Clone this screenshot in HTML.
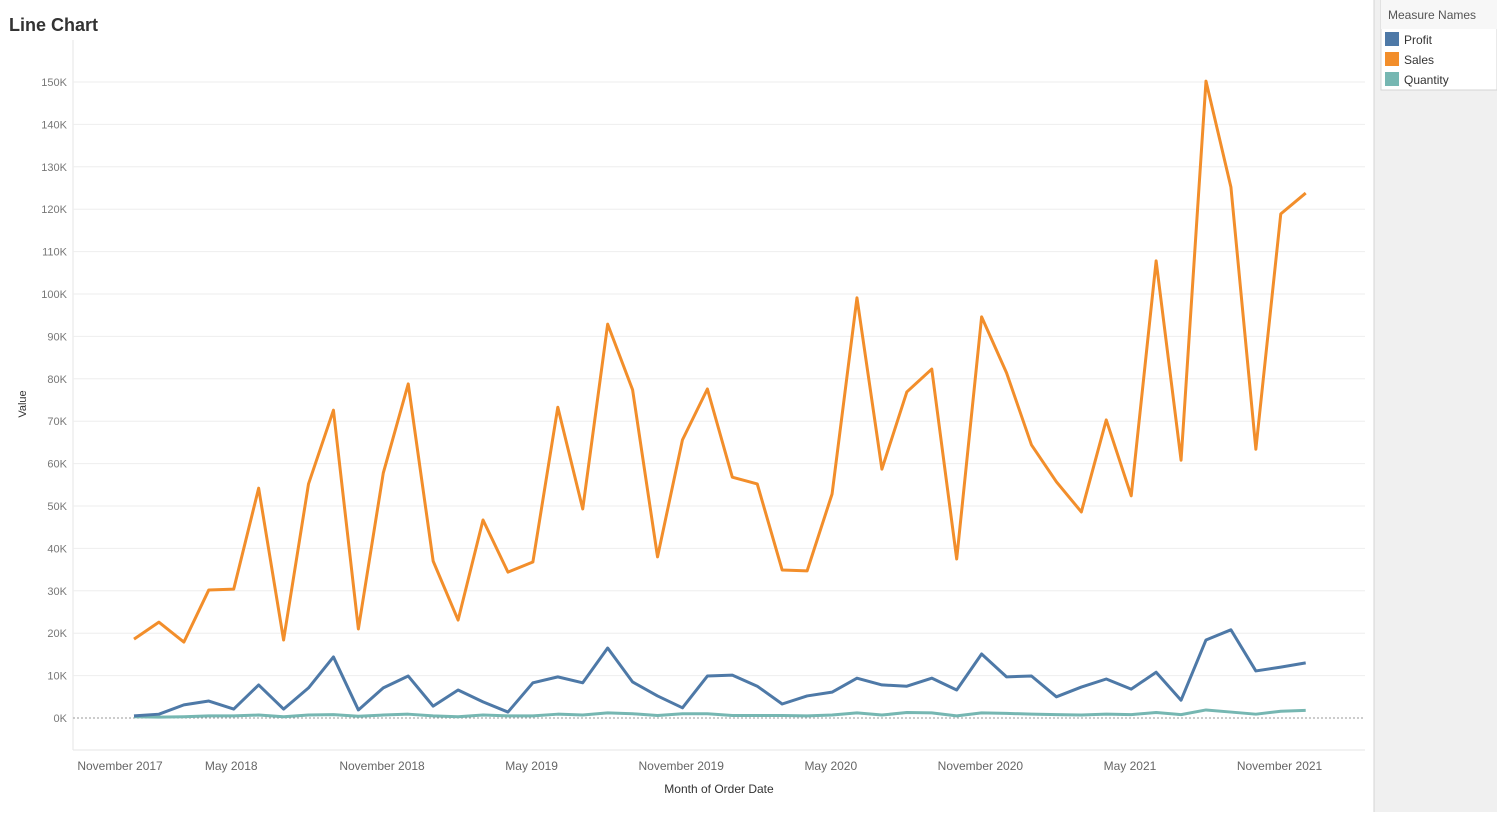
<!DOCTYPE html>
<html><head><meta charset="utf-8"><style>
body{margin:0;width:1497px;height:812px;overflow:hidden;background:#fff;font-family:"Liberation Sans",sans-serif;}
</style></head><body>
<svg id="c" width="1497" height="812" xmlns="http://www.w3.org/2000/svg">
<rect x="1374" y="0" width="123" height="812" fill="#f0f0f0"/>
<line x1="1374" y1="0" x2="1374" y2="812" stroke="#d4d4d4"/>
<g>
<rect x="1381" y="0" width="116" height="90" fill="#fff" stroke="#d4d4d4"/>
<rect x="1381" y="0" width="116" height="29" fill="#f7f7f7"/>
<text x="1388" y="19" font-size="12" fill="#555">Measure Names</text>
<g><rect x="1385" y="32" width="14" height="14" fill="#4e79a7"/><text x="1404" y="44" font-size="12" fill="#333">Profit</text></g>
<g><rect x="1385" y="52" width="14" height="14" fill="#f28e2b"/><text x="1404" y="64" font-size="12" fill="#333">Sales</text></g>
<g><rect x="1385" y="72" width="14" height="14" fill="#76b7b2"/><text x="1404" y="84" font-size="12" fill="#333">Quantity</text></g>
</g>
<text x="9" y="31" font-size="18" font-weight="bold" fill="#333">Line Chart</text>
<text transform="translate(26,404) rotate(-90)" text-anchor="middle" font-size="11" fill="#333">Value</text>
<text x="719" y="793" text-anchor="middle" font-size="12" fill="#333">Month of Order Date</text>
<line x1="73" y1="40" x2="73" y2="750" stroke="#e6e6e6"/>
<line x1="73" y1="750" x2="1365" y2="750" stroke="#e6e6e6"/>
<g id="grid"></g><g id="yt"></g><g id="xt"></g><g id="lines"></g>
</svg>
<script>
const sales=[18.6,22.6,17.9,30.2,30.4,54.2,18.4,55.2,72.6,21,57.8,78.8,37,23.1,46.7,34.4,36.8,73.3,49.3,92.9,77.4,38,65.6,77.6,56.8,55.2,34.9,34.7,52.8,99.1,58.7,76.9,82.3,37.5,94.6,81.4,64.4,55.7,48.6,70.3,52.4,107.8,60.8,150.2,125.2,63.4,118.9,123.8];
const profit=[0.5,0.9,3.1,4,2.1,7.8,2.1,7.1,14.4,1.9,7.1,9.9,2.8,6.6,3.8,1.4,8.3,9.7,8.3,16.5,8.5,5.2,2.4,9.9,10.1,7.5,3.3,5.2,6.1,9.4,7.8,7.5,9.4,6.6,15.1,9.7,9.9,5,7.3,9.2,6.8,10.8,4.2,18.4,20.8,11.1,12,13];
const quantity=[0.3,0.2,0.3,0.5,0.5,0.7,0.3,0.7,0.8,0.4,0.7,0.9,0.5,0.3,0.7,0.5,0.5,0.9,0.7,1.2,1.0,0.6,1.0,1.0,0.6,0.6,0.6,0.5,0.7,1.2,0.7,1.3,1.2,0.5,1.2,1.1,0.9,0.8,0.7,0.9,0.8,1.3,0.8,1.9,1.4,0.9,1.6,1.8];
const yTicks=[0,10,20,30,40,50,60,70,80,90,100,110,120,130,140,150];
const xLabels=["November 2017","May 2018","November 2018","May 2019","November 2019","May 2020","November 2020","May 2021","November 2021"];
const xLabelMonth=[-0.56,3.9,9.95,15.95,21.95,27.95,33.95,39.95,45.95];
const NS="http://www.w3.org/2000/svg";
const x=i=>134+i*24.93;
const y=v=>718-v*4.24;
const g=document.getElementById('grid'),yt=document.getElementById('yt'),xt=document.getElementById('xt'),L=document.getElementById('lines');
function mk(t,a,p){const e=document.createElementNS(NS,t);for(const k in a)e.setAttribute(k,a[k]);p.appendChild(e);return e;}
yTicks.forEach(v=>{
 const l=mk('line',{x1:73,x2:1365,y1:y(v),y2:y(v),stroke:v===0?'#999':'#eeeeee','stroke-dasharray':v===0?'2,2':'none'},g);
 
 
 const t=mk('text',{x:67,y:y(v)+4,'text-anchor':'end','font-size':11,fill:'#777'},yt);
 t.textContent=v+'K';
 
 
});
xLabels.forEach((s,i)=>{
 const t=mk('text',{x:x(xLabelMonth[i]),y:770,'text-anchor':'middle','font-size':12,fill:'#666'},xt);
 t.textContent=s;
 
 
});
[[quantity,'#76b7b2','quantity-line'],[profit,'#4e79a7','profit-line'],[sales,'#f28e2b','sales-line']].forEach(([d,c,n])=>{
 const p=mk('polyline',{points:d.map((v,i)=>x(i)+','+y(v)).join(' '),fill:'none',stroke:c,'stroke-width':3,'stroke-linejoin':'round'},L);
 
 
});
</script>
</body></html>
